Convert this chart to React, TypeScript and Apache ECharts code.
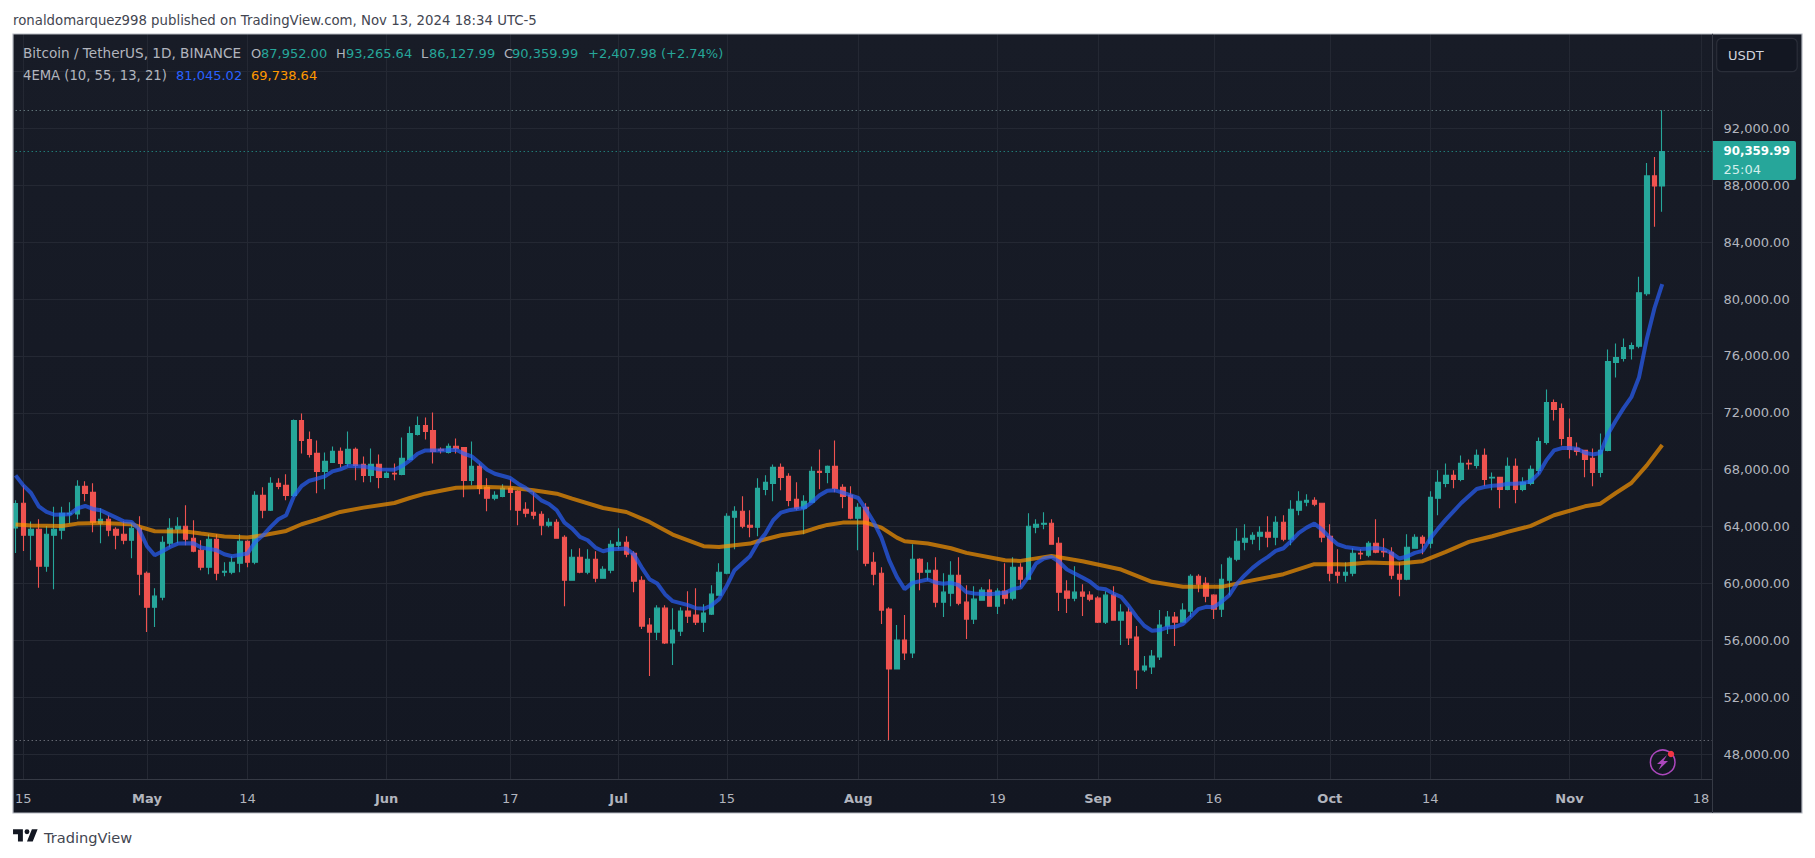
import React, { useEffect, useRef } from "react";
import * as echarts from "echarts";

// rows are [open, high, low, close]
const aprCandles = [
  [63906,65847,62152,65613],[65637,66900,62292,63391],[63391,64350,61637,63812],[63812,64514,59696,61216],
  [61216,64046,60819,63462],[63391,65403,59602,63812],[63742,65403,63111,64935],[64888,65707,64210,64935],
  [64888,67251,64514,66830],[66830,67181,65777,66339],[66409,67040,63602,64304],[64233,65286,62830,64514],
  [64514,64795,63321,63742],[63812,63953,62409,63391],[63462,64374,62760,63041],[63041,64257,61778,63883],
  [63883,64725,59181,60655],
];
const mayCandles = [
  [60725,60842,56585,58339],[58339,59672,56936,59111],[59041,63321,58830,62900],[62830,64584,62549,63883],
  [63812,64654,62830,64023],[64023,65497,62690,63111],[63181,64444,62200,62269],[62339,63041,60935,61146],
  [61146,63462,60655,63111],[63111,63462,60234,60725],[60795,61497,60514,60865],[60795,61918,60655,61497],
  [61427,63462,60795,62970],[62970,63041,61146,61497],[61497,66479,61357,66198],[66198,66760,64584,65146],
  [65146,67461,65100,67040],[67040,67391,66619,66830],[66900,67672,65847,66198],[66198,71531,66081,71461],
  [71461,71952,69145,70058],[70128,70689,68865,69075],[69145,70058,66339,67882],[67882,69216,66619,68584],
  [68514,69637,68480,69286],[69286,69566,68163,68444],[68444,70689,68233,69426],[69426,69566,67251,68303],
  [68374,68935,67110,67602],[67602,69496,67110,68374],[68374,69075,66689,67461],
];
const junCandles = [
  [67461,67882,67420,67742],[67742,68444,67251,67695],[67672,70268,67602,68795],[68724,71040,68654,70549],
  [70479,71742,70408,71110],[71110,71671,70128,70689],[70759,72022,68444,69286],[69426,69566,69145,69356],
  [69216,69847,69145,69637],[69637,70198,69145,69496],[69566,69566,66058,67251],[67251,69987,66900,68233],
  [68233,68444,66268,66689],[66760,67391,65076,65988],[65988,66479,65847,66198],[66128,66970,66058,66689],
  [66689,67321,65146,66409],[66479,66549,64093,65146],[65216,65707,64654,64935],[65005,66409,64514,64795],
  [64865,65076,63391,64093],[64093,64584,63953,64304],[64304,64514,63150,63181],[63251,63391,58409,60234],
  [60234,62409,60200,61848],[61848,62479,60725,60795],[60795,62409,60655,61707],[61707,62269,60093,60374],
  [60374,61216,60340,61006],[60935,63041,60725,62760],
];
const julCandles = [
  [62690,63883,62409,62900],[62900,63321,61848,62058],[62128,62269,59392,60164],[60234,60514,56795,57006],
  [57076,57567,53497,56585],[56585,58480,56024,58269],[58269,58480,55743,55813],[55813,58269,54269,56725],
  [56655,58339,56304,58059],[58059,59462,57216,57708],[57778,59672,57076,57287],[57287,58550,56585,57918],
  [57848,59883,57778,59251],[59181,61427,59150,60795],[60725,64935,60655,64725],[64654,65426,62409,65076],
  [65076,66128,63883,64023],[64093,65146,63251,63953],[63953,67391,63321,66689],[66619,67602,66198,67110],
  [67040,68374,65777,68163],[68163,68444,66549,67461],[67531,67742,65426,65847],[65918,67110,65146,65286],
  [65286,66198,63462,65777],[65707,68233,65680,67882],[67882,69426,66619,67812],[67812,68303,67040,68233],
  [68233,70058,66409,66689],[66760,66970,65286,66128],[66198,66830,64514,64584],
];
const augCandles = [
  [64584,65637,62339,65356],[65356,65637,61216,61427],[61497,62199,59883,60655],[60725,61146,57146,58129],
  [58199,58339,49000,53989],[53989,57076,53950,56024],[56024,57778,54620,55111],[55111,62760,54761,61707],
  [61707,61777,59532,60795],[60795,61497,60234,60935],[60935,61848,58339,58690],[58690,60725,57638,59392],
  [59322,61567,58409,60585],[60585,61848,58480,58620],[58690,59883,56094,57497],[57497,59813,57146,58901],
  [58830,59743,58800,59532],[59532,60304,58380,58409],[58409,59672,57848,59462],[59462,61427,58550,58971],
  [58971,61848,58830,61146],[61146,61427,59743,60304],[60304,64935,60280,64023],[63953,64514,63532,64163],
  [64163,65005,63812,64233],[64233,64514,62730,62760],[62830,63251,58059,59392],[59462,60234,57918,58971],
  [58971,61216,58760,59392],[59392,59953,57708,59111],[59181,59462,58760,58901],
];
const sepCandles = [
  [58971,59111,57216,57287],[57287,59462,57146,59181],[59181,59813,57400,57427],[57427,58550,55673,57988],
  [57988,58339,55673,56164],[56234,57006,52586,53919],[53919,54901,53778,54199],[54129,55322,53638,54901],
  [54830,58129,54620,57076],[57006,58059,56445,57638],[57638,57988,55602,57287],[57287,58620,57260,58129],
  [58059,60655,57638,60514],[60514,60655,59392,59953],[60023,60444,58690,59111],[59181,59251,57497,58199],
  [58199,61357,57638,60304],[60234,61900,59181,61778],[61707,63883,61567,62970],[62900,64163,62339,63181],
  [63111,63602,62760,63391],[63321,64023,62339,63602],[63602,64725,62549,63251],[63251,64725,62690,64304],
  [64304,64795,62970,63111],[63111,65847,62690,65216],[65146,66479,64795,65777],[65707,66268,65426,65847],
  [65847,66058,65426,65567],[65637,65637,62900,63251],
];
const octCandles = [
  [63321,64163,60164,60725],[60795,62409,60023,60585],[60585,61497,60117,60795],[60725,62479,60514,62128],
  [62128,62409,61707,62081],[61988,62970,61848,62830],[62830,64514,62128,62199],[62269,63181,61848,62222],
  [62199,62549,60304,60585],[60655,61497,59111,60304],[60304,63462,60234,62549],[62479,63462,62450,63251],
  [63251,63391,62058,62830],[62830,66479,62479,66058],[65988,67953,64795,67110],[67040,68444,66760,67602],
  [67602,67953,66689,67321],[67321,69005,67181,68444],[68444,68724,68023,68397],[68303,69426,68093,69005],
  [69005,69496,66830,67321],[67415,67812,66549,67461],[67461,67461,65286,66619],[66619,68865,66549,68233],
  [68233,68795,65637,66619],[66619,67461,66479,67110],[67040,68303,66900,68023],[67953,70268,67672,69987],
  [69917,73636,69777,72724],[72724,72935,71461,72233],[72303,72654,69707,70198],
];
const novCandles = [
  [70268,71601,68795,69426],[69496,69917,69005,69286],[69356,69356,67461,68724],[68795,69496,66830,67812],
  [67812,70549,67461,69356],[69357,76444,69300,75602],[75532,76865,74480,75883],[75813,77216,75602,76585],
  [76515,76936,75743,76725],[76678,81567,76538,80444],[80374,89567,80234,88655],[88655,89988,85076,87952],
  [87952,93265.64,86127.99,90359.99],
];

// the two averages at these day numbers (day 0 = 14 Apr)
const emaFastDays = [0,1,2,3,4,5,7,8,9,10,11,13,14,15,16,17,18,19,20,21,23,24,25,26,27,28,29,30,31,32,33,34,35,36,37,38,39,40,41,42,43,45,47,49,50,51,52,53,55,57,58,59,60,61,62,64,65,66,67,68,69,70,71,72,73,74,75,76,77,78,79,80,81,82,83,84,85,87,88,89,90,91,92,93,94,95,96,97,98,99,100,102,103,104,105,106,107,109,110,111,112,113,114,115,116,118,119,120,121,122,123,124,126,128,129,130,131,132,133,134,135,136,137,138,139,140,141,142,143,144,145,146,147,148,149,150,151,152,153,154,155,156,157,158,159,160,161,162,163,164,165,166,167,168,169,170,171,172,173,174,175,176,177,178,179,180,181,182,183,184,185,186,187,188,189,190,191,192,193,194,195,196,197,198,199,200,201,202,203,204,205,206,207,208,209,210,211,212,213];
const emaFastValues = [67602,66900,66362,65426,65029,64842,64865,65286,65450,65239,65146,64631,64374,64327,63789,62620,61988,62269,62573,62807,62830,62526,62433,62339,62058,61918,62011,62105,62924,63391,63976,64514,64795,66128,66853,67227,67368,67531,67882,68023,68257,68233,68023,68000,68257,68654,69122,69356,69356,69403,69122,68935,68490,68000,67719,67415,67017,66713,66315,65847,65590,65146,64280,63859,63275,63041,62526,62269,62409,62433,62456,62035,61123,60304,60000,59252,58760,58480,58269,58222,58456,58900,59836,60935,61427,61918,62854,63508,64444,64982,65146,65309,65707,66198,66526,66549,66385,66011,65216,64327,63228,61637,60468,59602,60047,60281,60070,59977,60047,59883,59392,59298,59251,59345,59602,59719,60468,61403,61754,61871,61520,60982,60702,60421,60117,59672,59602,59298,59064,58409,57661,57030,56678,56725,56912,56959,57146,57661,58199,58363,58339,58713,59181,60000,60585,61099,61520,61871,62292,62479,62994,63555,63929,64210,63789,63228,62760,62573,62503,62433,62456,62503,62409,62128,61754,61894,62152,62292,63158,63859,64491,65076,65660,66152,66643,66783,66877,66900,67017,67017,67064,67181,67719,68654,69356,69520,69520,69473,69192,69075,69169,70525,71461,72326,73098,74502,77192,79367,81045.02];
const emaSlowDays = [0,2,6,8,11,15,16,18,22,24,27,30,32,35,37,39,42,45,49,51,53,57,61,64,67,70,72,76,79,82,85,89,91,95,96,99,102,104,105,107,110,112,113,114,115,118,121,123,128,130,134,138,143,147,151,156,159,164,168,171,172,175,179,182,185,188,191,193,196,199,203,205,207,209,211,213];
const emaSlowValues = [64140,64070,64047,64210,64257,64163,64000,63672,63649,63508,63298,63228,63391,63696,64163,64491,65029,65333,65660,66011,66315,66736,66783,66736,66549,66315,65964,65309,65029,64327,63438,62620,62573,62807,62970,63391,63625,63976,64117,64280,64280,63929,63579,63228,62970,62807,62479,62152,61637,61590,61941,61567,60982,60117,59766,59766,60117,60655,61357,61357,61333,61473,61403,61567,62222,62924,63321,63625,64047,64795,65426,65613,66362,67064,68303,69738.64];

const monthTicks: Record<number, string> = {
  1: "15", 17: "May", 30: "14", 48: "Jun", 64: "17", 78: "Jul", 92: "15", 109: "Aug",
  127: "19", 140: "Sep", 155: "16", 170: "Oct", 183: "14", 201: "Nov", 218: "18",
};
const priceTicks = [48000,52000,56000,60000,64000,68000,72000,76000,80000,84000,88000,92000,96000];
const dayCount = 220;
const highPrice = 93265.64;
const lastPrice = 90359.99;
const lowPrice = 49000;

const title = "ronaldomarquez998 published on TradingView.com, Nov 13, 2024 18:34 UTC-5";

const FONT = "'DejaVu Sans'";
const TV_LOGO = "M14 6H2v6h6v9h6V6Zm12 15h-7l6-15h7l-6 15Zm-7-9a3 3 0 1 0 0-6 3 3 0 0 0 0 6Z";
echarts.graphic.registerShape("tvlogo", echarts.graphic.extendPath(TV_LOGO, {}) as any);

function sparse(days: number[], values: number[]) {
  const out: (number | null)[] = new Array(dayCount).fill(null);
  days.forEach((d, i) => { out[d] = values[i]; });
  return out;
}

const fmtPrice = (v: number) =>
  v.toLocaleString("en-US", { minimumFractionDigits: 2, maximumFractionDigits: 2 });

export default function App() {
  const ref = useRef<HTMLDivElement>(null);
  useEffect(() => {
    document.body.style.margin = "0";
    document.body.style.background = "#ffffff";
    const chart = echarts.init(ref.current!, undefined, { renderer: "svg" });
    const candles = [...aprCandles, ...mayCandles, ...junCandles, ...julCandles, ...augCandles, ...sepCandles, ...octCandles, ...novCandles];
    const days = Array.from({ length: dayCount }, (_, i) => String(i));
    const isTick = (i: number) => monthTicks[i] !== undefined;
    const txt = (x: number, y: number, text: string, fill: string, extra: any = {}) => ({
      type: "text", x, y, z: 100,
      style: { text, fill, font: `13px ${FONT}`, textVerticalAlign: "middle", ...extra },
    });
    const row1Gray = "#b2b5be";
    const teal = "#26a69a";
    chart.setOption({
      animation: false,
      backgroundColor: "#ffffff",
      grid: { left: 11.7, top: 34, width: 1700.8, height: 745 },
      xAxis: {
        type: "category",
        data: days,
        boundaryGap: true,
        axisLine: { show: true, onZero: false, lineStyle: { color: "#363a45", width: 1 } },
        axisTick: { show: false },
        splitLine: { show: true, interval: (i: number) => isTick(i), alignWithLabel: true, lineStyle: { color: "#242833", width: 1 } },
        axisLabel: {
          interval: (i: number) => isTick(i),
          margin: 12.5,
          formatter: (_: string, i: number) => {
            const t = monthTicks[i] ?? "";
            return /^[A-Z]/.test(t) ? `{b|${t}}` : t;
          },
          color: row1Gray,
          fontFamily: FONT,
          fontSize: 13,
          rich: { b: { fontWeight: "bold", color: row1Gray, fontFamily: FONT, fontSize: 13 } },
        },
      },
      yAxis: {
        type: "value",
        position: "right",
        min: 46257,
        max: 98629,
        axisLine: { show: true, lineStyle: { color: "#363a45", width: 1 } },
        axisTick: { show: false, customValues: priceTicks },
        splitLine: { show: true, lineStyle: { color: "#242833", width: 1 } },
        axisLabel: {
          customValues: priceTicks,
          margin: 11,
          padding: [0, 0, 2, 0],
          color: row1Gray,
          fontFamily: FONT,
          fontSize: 13,
          formatter: (v: number) => fmtPrice(v),
        },
      },
      series: [
        {
          type: "candlestick",
          data: candles.map(([o, h, l, c]) => [o, c, l, h]),
          barWidth: 5,
          itemStyle: { color: "#26a69a", color0: "#ef5350", borderColor: "#26a69a", borderColor0: "#ef5350", borderWidth: 1.1 },
          markLine: {
            silent: true,
            symbol: "none",
            label: { show: false },
            animation: false,
            data: [
              { yAxis: highPrice, lineStyle: { color: "#7f9a9c", type: [1, 3], width: 1 } },
              { yAxis: lastPrice, lineStyle: { color: "#26a69a", type: [1, 3], width: 1 } },
              { yAxis: lowPrice, lineStyle: { color: "#8a8d96", type: [1, 3], width: 1 } },
            ],
          },
        },
        {
          type: "line", data: sparse(emaSlowDays, emaSlowValues), connectNulls: true, showSymbol: false,
          lineStyle: { color: "#ff9800", width: 4, opacity: 0.68 },
        },
        {
          type: "line", data: sparse(emaFastDays, emaFastValues), connectNulls: true, showSymbol: false,
          lineStyle: { color: "#2962ff", width: 4, opacity: 0.68 },
        },
      ],
      graphic: {
        elements: [
          {
            type: "rect", z: -10, shape: { x: 13, y: 34, width: 1789, height: 779 },
            style: { fill: new echarts.graphic.LinearGradient(0, 0, 0, 1, [{ offset: 0, color: "#181c27" }, { offset: 1, color: "#131722" }]) },
          },
          { type: "rect", z: 90, shape: { x: 0, y: 34, width: 13, height: 779 }, style: { fill: "#ffffff" } },
          { type: "rect", z: 91, shape: { x: 13, y: 34, width: 1789, height: 779 }, style: { fill: "none", stroke: "#b6b9c2", lineWidth: 1.2 } },
          { type: "line", z: 91, shape: { x1: 1712.5, y1: 34, x2: 1712.5, y2: 813 }, style: { stroke: "#363a45", lineWidth: 1 } },
          txt(13, 20, title, "#434651", { font: `13.3px ${FONT}` }),
          txt(23, 53, "Bitcoin / TetherUS, 1D, BINANCE", row1Gray, { font: `13.6px ${FONT}` }),
          txt(251, 53, "O", row1Gray), txt(261, 53, "87,952.00", teal),
          txt(336, 53, "H", row1Gray), txt(346, 53, "93,265.64", teal),
          txt(421, 53, "L", row1Gray), txt(429, 53, "86,127.99", teal),
          txt(504, 53, "C", row1Gray), txt(512, 53, "90,359.99", teal),
          txt(588, 53, "+2,407.98 (+2.74%)", teal),
          txt(23, 75, "4EMA (10, 55, 13, 21)", row1Gray, { font: `13.2px ${FONT}` }),
          txt(176, 75, "81,045.02", "#2962ff"),
          txt(251, 75, "69,738.64", "#ff9800"),
          { type: "rect", z: 94, shape: { x: 1714, y: 60, width: 86, height: 17.2 }, style: { fill: "#181c27" } },
          { type: "rect", z: 95, shape: { x: 1716.7, y: 38.3, width: 80.5, height: 33.4, r: 5 }, style: { fill: "#131722", stroke: "#2a2e39", lineWidth: 1.2 } },
          txt(1728, 55, "USDT", "#d1d4dc"),
          { type: "rect", z: 95, shape: { x: 1713, y: 141, width: 83, height: 39, r: [0, 2, 2, 0] }, style: { fill: "#26a69a" } },
          txt(1723.5, 151, "90,359.99", "#ffffff", { font: `bold 11.8px ${FONT}` }),
          txt(1723.5, 169, "25:04", "#d3efec"),
          { type: "tvlogo", x: 11.4, y: 824.4, scaleX: 0.82, scaleY: 0.82, z: 100, style: { fill: "#131722" } },
          txt(44, 837, "TradingView", "#434651", { font: `14.6px ${FONT}` }),
          { type: "circle", z: 100, shape: { cx: 1662.7, cy: 762.3, r: 12.3 }, style: { fill: "none", stroke: "#ab47bc", lineWidth: 1.5 } },
          { type: "polygon", z: 100, shape: { points: [[1667, 755], [1657, 764], [1661.5, 764], [1658.5, 770], [1668, 761], [1663.5, 761]] }, style: { fill: "#ab47bc" } },
          { type: "circle", z: 101, shape: { cx: 1671, cy: 754, r: 3.2 }, style: { fill: "#f23645" } },
        ],
      },
    });
    return () => chart.dispose();
  }, []);
  return <div ref={ref} style={{ position: "absolute", left: 0, top: 0, width: 1815, height: 858 }} />;
}
